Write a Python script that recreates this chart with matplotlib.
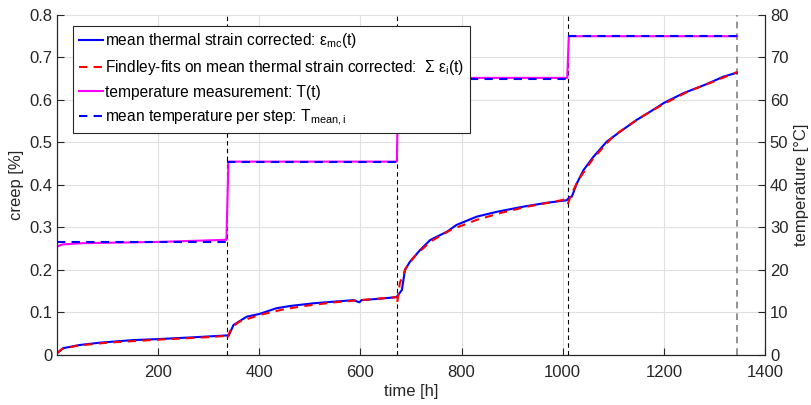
import numpy as np
import matplotlib
matplotlib.use("Agg")
import matplotlib.pyplot as plt

plt.rcParams['font.family'] = ['Liberation Sans', 'DejaVu Sans']
plt.rcParams['mathtext.fontset'] = 'custom'
plt.rcParams['mathtext.rm'] = 'Liberation Sans'
plt.rcParams['mathtext.it'] = 'Liberation Sans'

# measured creep (mean, thermal strain corrected) per load step
t_meas = [0, 12, 45, 85, 150, 204, 269, 316, 336,
          340, 349, 375, 400, 434, 461, 507, 553, 586, 598, 602, 639, 668, 672,
          682, 688, 698, 718, 738, 771, 790, 830, 870, 922, 968, 1001, 1008,
          1014, 1018, 1028, 1041, 1061, 1087, 1113, 1146, 1173, 1200, 1238, 1285, 1318, 1344]
creep_meas = [0.004, 0.016, 0.0235, 0.029, 0.035, 0.0376, 0.0416, 0.0447, 0.046,
              0.047, 0.0706, 0.090, 0.0965, 0.110, 0.1153, 0.1216, 0.126, 0.129, 0.124, 0.129, 0.1325, 0.1357, 0.137,
              0.153, 0.200, 0.2196, 0.247, 0.2706, 0.290, 0.306, 0.3255, 0.337, 0.349, 0.358, 0.363, 0.364,
              0.372, 0.3725, 0.404, 0.435, 0.4667, 0.502, 0.525, 0.553, 0.5725, 0.593, 0.6157, 0.6376, 0.655, 0.664]

# Findley fits, one per load step
t_fit = [0, 10, 40, 100, 200, 300, 336, np.nan,
         337, 345, 360, 400, 450, 500, 550, 600, 650, 672, np.nan,
         673, 678, 690, 710, 740, 780, 830, 880, 930, 980, 1009, np.nan,
         1010, 1016, 1030, 1060, 1100, 1150, 1200, 1250, 1300, 1345]
creep_fit = [0.004, 0.014, 0.022, 0.029, 0.036, 0.042, 0.045, np.nan,
             0.041, 0.064, 0.078, 0.094, 0.108, 0.117, 0.124, 0.129, 0.134, 0.136, np.nan,
             0.125, 0.170, 0.205, 0.236, 0.268, 0.295, 0.318, 0.335, 0.349, 0.360, 0.367, np.nan,
             0.355, 0.375, 0.410, 0.462, 0.515, 0.556, 0.591, 0.621, 0.644, 0.666]

# temperature measurement
t_temp = [0, 10, 50, 200, 335, 339, 672, 675, 1009, 1012, 1345]
temp_meas = [25.5, 26.0, 26.3, 26.6, 27.1, 45.5, 45.5, 65.2, 65.2, 75.0, 75.0]

# load steps and mean temperature per step
step_ends = [337, 673, 1010, 1345]
step_starts = [0, 337, 673, 1010]
temp_mean = [26.5, 45.5, 65.0, 75.0]

fig, ax = plt.subplots(figsize=(8.11, 4.05), dpi=100)
fig.subplots_adjust(left=0.0709, right=0.9433, bottom=0.1235, top=0.963)
ax2 = ax.twinx()

dark = '#262626'

for x in step_ends[:-1]:
    ax.axvline(x, color='k', ls=(0, (4, 3)), lw=0.8, zorder=1)
ax.axvline(step_ends[-1], color='0.5', ls=(0, (4, 3)), lw=1.2, zorder=1)

h1, = ax.plot(t_meas, creep_meas, color='b', lw=1.5, zorder=3,
              label=r'mean thermal strain corrected: ε$_{\mathrm{mc}}$(t)')
h2, = ax.plot(t_fit, creep_fit, color='r', lw=1.5, ls=(0, (4, 3)), zorder=4,
              label=r'Findley-fits on mean thermal strain corrected:  Σ ε$_{\mathrm{i}}$(t)')

h3, = ax2.plot(t_temp, temp_meas, color='#ff00ff', lw=1.5,
               label='temperature measurement: T(t)')
h4 = None
for s, e, m in zip(step_starts, step_ends, temp_mean):
    ln, = ax2.plot([s, e], [m, m], color='b', lw=1.5, ls=(0, (4, 3)),
                   label=r'mean temperature per step: T$_{\mathrm{mean,i}}$')
    if h4 is None:
        h4 = ln

ax.set_xlim(1, 1400)
ax.set_xticks(range(200, 1401, 200))
ax.set_ylim(0, 0.8)
ax.set_yticks(np.arange(0, 0.81, 0.1))
ax.set_yticklabels(['0', '0.1', '0.2', '0.3', '0.4', '0.5', '0.6', '0.7', '0.8'])
ax2.set_ylim(0, 80)
ax2.set_yticks(range(0, 81, 10))

ax.grid(True, color='0.88', lw=0.8)
ax.set_axisbelow(True)

ax.set_xlabel('time [h]', fontsize=12, color=dark, labelpad=3)
ax.set_ylabel('creep [%]', fontsize=12, color=dark, labelpad=4)
ax2.set_ylabel('temperature [°C]', fontsize=12, color=dark, labelpad=4)

for a in (ax, ax2):
    a.tick_params(direction='in', length=5, width=0.8, labelsize=12,
                  colors=dark, labelcolor=dark)
    for sp in a.spines.values():
        sp.set_color(dark)
        sp.set_linewidth(0.8)
ax.tick_params(axis='x', pad=7)
ax.spines['top'].set_visible(False)
ax2.spines['top'].set_visible(False)

leg = ax2.legend(handles=[h1, h2, h3, h4], loc='upper left',
                 bbox_to_anchor=(0.022, 0.968), borderaxespad=0,
                 fontsize=11.2, handlelength=1.55, handletextpad=0.15,
                 labelspacing=0.5, fancybox=False, framealpha=1,
                 edgecolor=dark, borderpad=0.35)
leg.get_frame().set_linewidth(0.8)

fig.savefig('out.png', dpi=100)
